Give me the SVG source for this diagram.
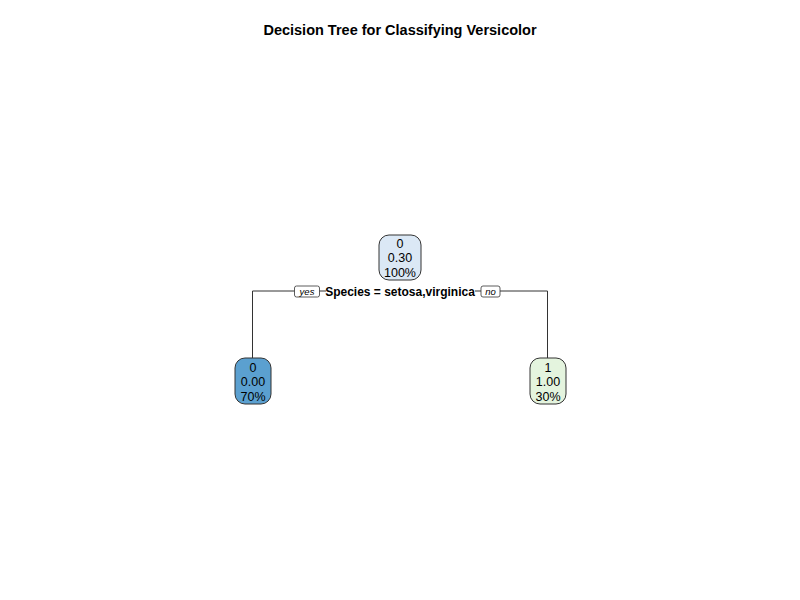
<svg xmlns="http://www.w3.org/2000/svg" width="800" height="600" viewBox="0 0 800 600">
<style>
text{font-family:"Liberation Sans",Arial,sans-serif;fill:#000}
.title{font-size:14.5px;font-weight:bold}
.nt{font-size:12.5px;text-anchor:middle}
.node{stroke:#333;stroke-width:1}
.edge{fill:none;stroke:#333;stroke-width:1}
.lab{fill:#fff;stroke:#333;stroke-width:0.8}
.lt{font-size:9.5px;font-style:italic;text-anchor:middle}
.split{font-size:12px;font-weight:bold;text-anchor:middle}
</style>
<rect width="800" height="600" fill="#fff"/>
<text class="title" x="400" y="35" text-anchor="middle">Decision Tree for Classifying Versicolor</text>
<g id="connectors">
<path class="edge" d="M295 291 H252.5 V358"/>
<path class="edge" d="M319 291 H326"/>
<path class="edge" d="M475 291 H481"/>
<path class="edge" d="M500 291 H547.5 V358"/>
<rect class="lab" x="294.5" y="286" width="25" height="11" rx="2"/>
<text class="lt" x="307" y="295">yes</text>
<rect class="lab" x="481" y="286" width="19" height="11" rx="2"/>
<text class="lt" x="490.5" y="295">no</text>
<text class="split" x="400" y="296">Species = setosa,virginica</text>
</g>
<g id="root">
<rect class="node" x="379" y="235" width="42" height="45" rx="10" fill="#DBE8F5"/>
<text class="nt" x="400" y="247.5">0</text>
<text class="nt" x="400" y="262">0.30</text>
<text class="nt" x="400" y="276.5">100%</text>
</g>
<g id="leaf-left">
<rect class="node" x="235" y="358" width="36" height="46" rx="10" fill="#5BA0D0"/>
<text class="nt" x="253" y="371.5">0</text>
<text class="nt" x="253" y="386">0.00</text>
<text class="nt" x="253" y="400.5">70%</text>
</g>
<g id="leaf-right">
<rect class="node" x="530" y="358" width="36" height="46" rx="10" fill="#E4F4DE"/>
<text class="nt" x="548" y="371.5">1</text>
<text class="nt" x="548" y="386">1.00</text>
<text class="nt" x="548" y="400.5">30%</text>
</g>
</svg>
